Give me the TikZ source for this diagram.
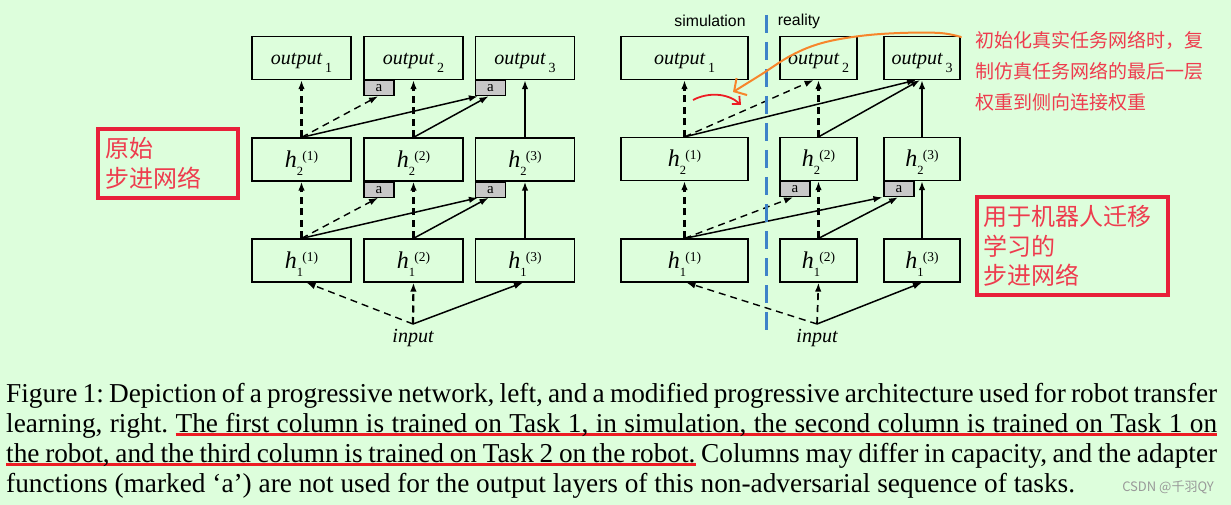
\documentclass[tikz,border=0pt]{standalone}
\usepackage{fontspec}
\setmainfont{Liberation Serif}
\newfontfamily\cjk{Noto Sans CJK SC}
\newfontfamily\labelsans{Liberation Sans}
\usetikzlibrary{positioning,arrows.meta,calc}

\definecolor{pagegreen}{RGB}{221,254,220}
\definecolor{adgray}{RGB}{200,200,200}
\definecolor{divblue}{RGB}{62,130,200}
\definecolor{framered}{RGB}{232,32,58}
\definecolor{notered}{RGB}{238,60,78}
\definecolor{penred}{RGB}{237,28,36}
\definecolor{penorange}{RGB}{247,133,43}

% layer labels
\newcommand\outlbl[1]{\textit{output}\hspace{2.5pt}\raisebox{-8pt}{\fontsize{14}{14}\selectfont #1}}
\newcommand\hlbl[2]{{\fontsize{24}{24}\selectfont\textit{h}}%
  \rlap{\raisebox{-8pt}{\fontsize{12.5}{12.5}\selectfont #1}}\hspace{5.5pt}%
  \raisebox{7pt}{\fontsize{13.5}{13.5}\selectfont(#2)}}
% red underline, word by word, spaces stay stretchable
\newcommand\ulw[1]{\setbox0\hbox{#1}\rlap{\textcolor{penred}{\rule[-3.5pt]{\wd0}{3pt}}}\box0\relax}
\newcommand\ulsp{{\color{penred}\leaders\hrule height -0.5pt depth 3.5pt
  \hskip\fontdimen2\font plus \fontdimen3\font minus \fontdimen4\font}}
\def\redul#1{\redulA#1 \ulend}
\def\redulA#1 #2\ulend{\ulw{#1}\ifx\relax#2\relax\else\ulsp\redulA#2\ulend\fi}

\begin{document}
\frenchspacing
\begin{tikzpicture}[
  x=1pt, y=-1pt,
  >={Latex[length=9pt,width=6.5pt]},
  layer/.style={
    draw, line width=1.2pt, minimum height=43pt, inner sep=0pt,
    font=\fontsize{20}{20}\selectfont
  },
  outlayer/.style={layer, text height=18pt, text depth=5pt},
  hlayer/.style={layer, text height=20pt, text depth=4pt},
  adapt/.style={
    draw, line width=1.2pt, fill=adgray, anchor=north west,
    minimum width=30pt, minimum height=15pt, inner sep=0pt,
    font=\fontsize{15}{15}\selectfont
  },
  % lateral and vertical links
  fwdash/.style ={->, line width=2.2pt, dash pattern=on 7pt off 4.5pt},
  latdash/.style={->, line width=1.4pt, dash pattern=on 7pt off 5pt},
  latline/.style={->, line width=1.5pt},
  fwline/.style ={->, line width=2.2pt},
  inlbl/.style={font=\fontsize{20}{20}\selectfont\itshape, inner sep=0pt},
  side/.style={font=\labelsans\fontsize{15.8}{16}\selectfont, inner sep=0pt},
  divider/.style={divblue, line width=3pt, dash pattern=on 18pt off 9pt},
  note/.style={text=notered, align=left, inner sep=0pt, font=\cjk\fontsize{19}{31}\selectfont},
  noteframe/.style={draw=framered, line width=3.5pt, text=notered, align=left,
    inner ysep=0pt, font=\cjk\fontsize{24}{29.5}\selectfont},
  capline/.style={anchor=base west, inner sep=0pt, font=\fontsize{27.3}{30}\selectfont}
]
\fill[pagegreen] (0,0) rectangle (1231,505);
\useasboundingbox (0,0) rectangle (1231,505);

% ---------- Left: progressive network ----------
\node[outlayer, minimum width=99pt] (o1L) at (301.5,58) {\outlbl{1}};
\node[outlayer, minimum width=99pt] (o2L) at (413.5,58) {\outlbl{2}};
\node[outlayer, minimum width=99pt] (o3L) at (525,58)   {\outlbl{3}};
\node[hlayer, minimum width=99pt] (h21L) at (301.5,159.5) {\hlbl{2}{1}};
\node[hlayer, minimum width=99pt] (h22L) at (413.5,159.5) {\hlbl{2}{2}};
\node[hlayer, minimum width=99pt] (h23L) at (525,159.5)   {\hlbl{2}{3}};
\node[hlayer, minimum width=99pt] (h11L) at (301.5,260.5) {\hlbl{1}{1}};
\node[hlayer, minimum width=99pt] (h12L) at (413.5,260.5) {\hlbl{1}{2}};
\node[hlayer, minimum width=99pt] (h13L) at (525,260.5)   {\hlbl{1}{3}};

\node[adapt] (ao2L) at (o2L.south west) {a};
\node[adapt] (ao3L) at (o3L.south west) {a};
\node[adapt] (ah22L) at (h22L.south west) {a};
\node[adapt] (ah23L) at (h23L.south west) {a};

\node[inlbl] (inL) at (413,338) {input};
\coordinate (srcL) at (413,324);

\draw[fwdash]  (h21L.north) -- (o1L.south);
\draw[latdash] (h21L.north) -- ([xshift=-1pt]ao2L.south);
\draw[latline] (h21L.north) -- ([xshift=3pt]ao3L.south west);
\draw[fwdash]  (h22L.north) -- (o2L.south);
\draw[latline] (h22L.north) -- ([xshift=-2pt]ao3L.south);
\draw[fwline]  (h23L.north) -- (o3L.south);

\draw[fwdash]  (h11L.north) -- (h21L.south);
\draw[latdash] (h11L.north) -- ([xshift=-1pt]ah22L.south);
\draw[latline] (h11L.north) -- ([xshift=3pt]ah23L.south west);
\draw[fwdash]  (h12L.north) -- (h22L.south);
\draw[latline] (h12L.north) -- ([xshift=-2pt]ah23L.south);
\draw[fwline]  (h13L.north) -- (h23L.south);

\draw[latdash] (srcL) -- ([xshift=5pt]h11L.south);
\draw[fwdash]  (srcL) -- (h12L.south);
\draw[latline] (srcL) -- ([xshift=-2pt]h13L.south);

% ---------- Right: modified network for the robot ----------
\node[outlayer, minimum width=127pt] (o1R) at (684.5,58) {\outlbl{1}};
\node[outlayer, minimum width=77pt]  (o2R) at (818.5,58) {\outlbl{2}};
\node[outlayer, minimum width=76pt]  (o3R) at (922,58)   {\outlbl{3}};
\node[hlayer, minimum width=127pt] (h21R) at (684.5,159) {\hlbl{2}{1}};
\node[hlayer, minimum width=77pt]  (h22R) at (818.5,159) {\hlbl{2}{2}};
\node[hlayer, minimum width=76pt]  (h23R) at (922,159)   {\hlbl{2}{3}};
\node[hlayer, minimum width=127pt] (h11R) at (684.5,260.5) {\hlbl{1}{1}};
\node[hlayer, minimum width=77pt]  (h12R) at (818.5,260.5) {\hlbl{1}{2}};
\node[hlayer, minimum width=76pt]  (h13R) at (922,260.5)   {\hlbl{1}{3}};

\node[adapt] (ah22R) at (h22R.south west) {a};
\node[adapt] (ah23R) at (h23R.south west) {a};

\node[inlbl] (inR) at (817,338) {input};
\coordinate (srcR) at (817,324);

\draw[fwdash]  (h21R.north) -- (o1R.south);
\draw[latdash] (h21R.north) -- ([xshift=-5pt]o2R.south);
\draw[latline] (h21R.north) -- ([xshift=-6pt]o3R.south);
\draw[fwdash]  (h22R.north) -- (o2R.south);
\draw[latline] (h22R.north) -- ([xshift=-2pt]o3R.south);
\draw[fwline]  (h23R.north) -- (o3R.south);

\draw[fwdash]  (h11R.north) -- (h21R.south);
\draw[latdash] (h11R.north) -- ([xshift=-2pt]ah22R.south);
\draw[latline] (h11R.north) -- ([xshift=-1pt]ah23R.south west);
\draw[fwdash]  (h12R.north) -- (h22R.south);
\draw[latline] (h12R.north) -- ([xshift=-1pt]ah23R.south);
\draw[fwline]  (h13R.north) -- (h23R.south);

\draw[latdash] (srcR) -- ([xshift=2pt]h11R.south);
\draw[latdash, line width=1.7pt] (srcR) -- (h12R.south);
\draw[latline] (srcR) -- (h13R.south);

% simulation | reality
\draw[divider] (766,15) -- (766,332);
\node[side] (simL) at (710,21) {simulation};
\node[side] (realL) at (799,21) {reality};

% ---------- Hand-drawn notes ----------
\draw[penred, line width=1.8pt, -{Straight Barb[length=6pt,width=11pt]}]
  (693,100) .. controls (708,92) and (728,93) .. (741,105);
\draw[penorange, line width=2pt, line cap=round, -{Straight Barb[length=9pt,width=20pt]}]
  plot[smooth, tension=0.6] coordinates {(961,37) (940,33) (900,33) (860,36) (822,43) (792,55) (762,74) (733,92)};

\node[note, anchor=north west] (copynote) at (975,31)
  {初始化真实任务网络时，复\\制仿真任务网络的最后一层\\权重到侧向连接权重};
\node[noteframe, minimum width=140pt, minimum height=69pt, text width=126pt, inner xsep=7pt]
  (origbox) at (168,163.5) {原始\\步进网络};
\node[noteframe, minimum width=191pt, minimum height=98pt, text width=179pt, inner xsep=6pt]
  (robotbox) at (1072.5,246) {用于机器人迁移\\学习的\\步进网络};

% ---------- Caption ----------
\node[capline] (cap1) at (6,402) {\makebox[1211pt][s]{Figure 1: Depiction of a progressive network, left, and a modified progressive architecture used for robot transfer}};
\node[capline] (cap2) at (6,432.5) {\makebox[1211pt][s]{learning, right. \redul{The first column is trained on Task 1, in simulation, the second column is trained on Task 1 on}}};
\node[capline] (cap3) at (6,462.5) {\makebox[1211pt][s]{\redul{the robot, and the third column is trained on Task 2 on the robot.} Columns may differ in capacity, and the adapter}};
\node[capline] (cap4) at (6,492) {functions (marked ‘a’) are not used for the output layers of this non-adversarial sequence of tasks.};
\node[font=\cjk\fontsize{13}{13}\selectfont, text=black!40, inner sep=0pt] (csdn) at (1168,487) {CSDN @千羽QY};

\end{tikzpicture}
\end{document}
